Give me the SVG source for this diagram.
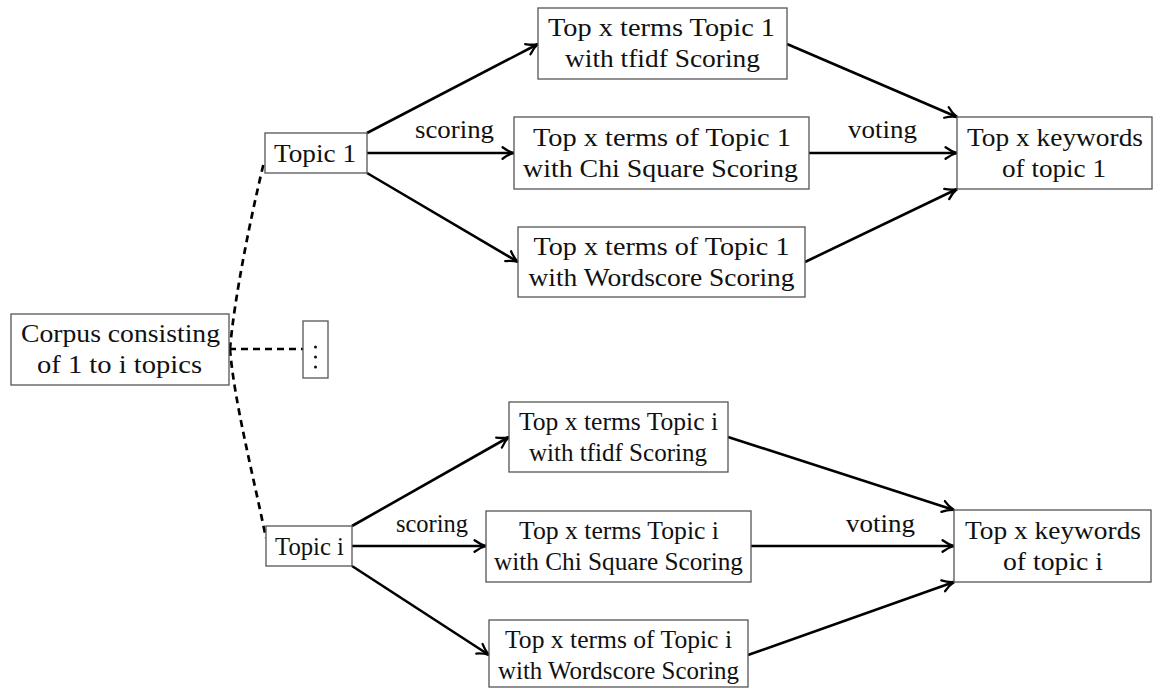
<svg xmlns="http://www.w3.org/2000/svg" width="1153" height="688" viewBox="0 0 1153 688">
<style>
  .box { fill: #ffffff; stroke: #555555; stroke-width: 1.3; }
  .t { font-family: "Liberation Serif", "Times New Roman", serif; font-size: 26px; fill: #111111; text-anchor: middle; }
  .arr { fill: none; stroke: #000000; stroke-width: 2.6; marker-end: url(#ah); }
  .dash { fill: none; stroke: #000000; stroke-width: 2.7; stroke-dasharray: 7 5; }
</style>
<defs>
  <marker id="ah" viewBox="0 0 10 10" refX="9" refY="5" markerWidth="5.5" markerHeight="5.5" markerUnits="strokeWidth" orient="auto">
    <path d="M1,1 Q5,4 9,5 Q5,6 1,9" fill="none" stroke="#000000" stroke-width="1.6" stroke-linecap="round"/>
  </marker>
</defs>
<rect width="1153" height="688" fill="#ffffff"/>

<g id="connectors">
  <path class="dash" d="M229,349 L303,349"/>
  <path class="dash" d="M230,349 C234,300 250,220 264,162"/>
  <path class="dash" d="M230,349 C234,400 252,470 266,538"/>

  <path class="arr" d="M367,133 L538,44"/>
  <path class="arr" d="M367,153 L514,153"/>
  <path class="arr" d="M367,173 L518,262"/>
  <path class="arr" d="M787,44 L957,117"/>
  <path class="arr" d="M809,153 L957,153"/>
  <path class="arr" d="M805,262 L957,189"/>

  <path class="arr" d="M352,526 L509,437"/>
  <path class="arr" d="M352,546 L486,546"/>
  <path class="arr" d="M352,566 L489,655"/>
  <path class="arr" d="M728,437 L954,510"/>
  <path class="arr" d="M751,546 L954,546"/>
  <path class="arr" d="M748,655 L954,582"/>

  <text class="t" x="454.5" y="138" textLength="79" lengthAdjust="spacingAndGlyphs">scoring</text>
  <text class="t" x="882.5" y="138" textLength="69" lengthAdjust="spacingAndGlyphs">voting</text>
  <text class="t" x="432" y="532" textLength="72" lengthAdjust="spacingAndGlyphs">scoring</text>
  <text class="t" x="880.5" y="532" textLength="69" lengthAdjust="spacingAndGlyphs">voting</text>
</g>

<g id="corpus">
  <rect class="box" x="11" y="314" width="218" height="71"/>
  <text class="t" x="120.5" y="342" textLength="199" lengthAdjust="spacingAndGlyphs">Corpus consisting</text>
  <text class="t" x="119.5" y="373" textLength="165" lengthAdjust="spacingAndGlyphs">of 1 to i topics</text>
</g>

<g id="dots">
  <rect class="box" x="303" y="321" width="25" height="57"/>
  <circle cx="315.5" cy="347" r="1.5" fill="#111111"/>
  <circle cx="315.5" cy="357" r="1.5" fill="#111111"/>
  <circle cx="315.5" cy="367" r="1.5" fill="#111111"/>
</g>

<g id="topic1">
  <rect class="box" x="265" y="133" width="102" height="40"/>
  <text class="t" x="315" y="162" textLength="82" lengthAdjust="spacingAndGlyphs">Topic 1</text>
</g>

<g id="tfidf1">
  <rect class="box" x="538" y="8" width="249" height="71"/>
  <text class="t" x="661.5" y="36" textLength="227" lengthAdjust="spacingAndGlyphs">Top x terms Topic 1</text>
  <text class="t" x="662.5" y="67" textLength="195" lengthAdjust="spacingAndGlyphs">with tfidf Scoring</text>
</g>

<g id="chi1">
  <rect class="box" x="514" y="117" width="295" height="72"/>
  <text class="t" x="662" y="146" textLength="258" lengthAdjust="spacingAndGlyphs">Top x terms of Topic 1</text>
  <text class="t" x="660.5" y="177" textLength="275" lengthAdjust="spacingAndGlyphs">with Chi Square Scoring</text>
</g>

<g id="word1">
  <rect class="box" x="518" y="227" width="287" height="70"/>
  <text class="t" x="661.5" y="255" textLength="256" lengthAdjust="spacingAndGlyphs">Top x terms of Topic 1</text>
  <text class="t" x="661.5" y="286" textLength="266" lengthAdjust="spacingAndGlyphs">with Wordscore Scoring</text>
</g>

<g id="keywords1">
  <rect class="box" x="957" y="117" width="195" height="72"/>
  <text class="t" x="1055" y="146" textLength="176" lengthAdjust="spacingAndGlyphs">Top x keywords</text>
  <text class="t" x="1054" y="177" textLength="104" lengthAdjust="spacingAndGlyphs">of topic 1</text>
</g>

<g id="topici">
  <rect class="box" x="266" y="526" width="86" height="40"/>
  <text class="t" x="309.5" y="555" textLength="69" lengthAdjust="spacingAndGlyphs">Topic i</text>
</g>

<g id="tfidfi">
  <rect class="box" x="509" y="402" width="219" height="70"/>
  <text class="t" x="618.5" y="430" textLength="199" lengthAdjust="spacingAndGlyphs">Top x terms Topic i</text>
  <text class="t" x="618" y="461" textLength="178" lengthAdjust="spacingAndGlyphs">with tfidf Scoring</text>
</g>

<g id="chii">
  <rect class="box" x="486" y="511" width="265" height="71"/>
  <text class="t" x="619" y="539" textLength="200" lengthAdjust="spacingAndGlyphs">Top x terms Topic i</text>
  <text class="t" x="618.5" y="570" textLength="249" lengthAdjust="spacingAndGlyphs">with Chi Square Scoring</text>
</g>

<g id="wordi">
  <rect class="box" x="489" y="620" width="259" height="67"/>
  <text class="t" x="618.5" y="648" textLength="227" lengthAdjust="spacingAndGlyphs">Top x terms of Topic i</text>
  <text class="t" x="618.5" y="679" textLength="241" lengthAdjust="spacingAndGlyphs">with Wordscore Scoring</text>
</g>

<g id="keywordsi">
  <rect class="box" x="954" y="510" width="197" height="72"/>
  <text class="t" x="1053" y="539" textLength="176" lengthAdjust="spacingAndGlyphs">Top x keywords</text>
  <text class="t" x="1053" y="570" textLength="100" lengthAdjust="spacingAndGlyphs">of topic i</text>
</g>
</svg>
